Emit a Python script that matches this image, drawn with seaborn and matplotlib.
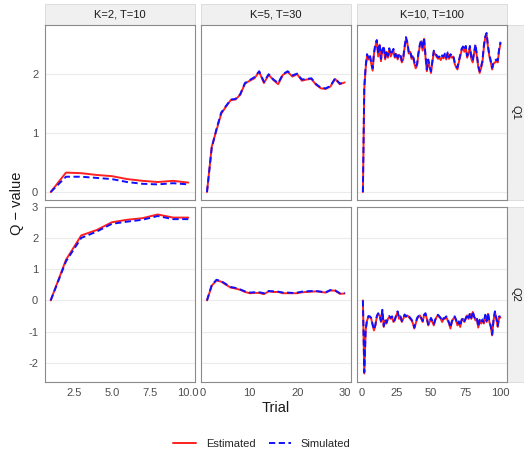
import numpy as np
import pandas as pd
import seaborn as sns
import matplotlib.pyplot as plt
from matplotlib.lines import Line2D
from matplotlib.patches import Rectangle

# facets
conditions = ["K=2, T=10", "K=5, T=30", "K=10, T=100"]
n_trials = [10, 30, 100]
q_rows = ["Q1", "Q2"]
sources = ["Estimated", "Simulated"]

# K=2, T=10
est_q1_k2 = [0.00, 0.33, 0.32, 0.29, 0.27, 0.22, 0.19, 0.17, 0.19, 0.16]
sim_q1_k2 = [0.00, 0.26, 0.26, 0.24, 0.22, 0.17, 0.14, 0.13, 0.15, 0.13]
est_q2_k2 = [0.00, 1.30, 2.08, 2.25, 2.50, 2.58, 2.63, 2.75, 2.65, 2.65]
sim_q2_k2 = [0.00, 1.25, 2.00, 2.20, 2.45, 2.52, 2.58, 2.70, 2.60, 2.60]

# K=5, T=30
est_q1_k5 = [0.00, 0.77, 1.05, 1.33, 1.45, 1.56, 1.57, 1.65, 1.84, 1.89,
             1.93, 2.04, 1.85, 1.99, 1.90, 1.83, 1.99, 2.04, 1.96, 2.00,
             1.89, 1.91, 1.92, 1.82, 1.76, 1.75, 1.79, 1.92, 1.83, 1.86]
sim_q1_k5 = [0.00, 0.75, 1.07, 1.35, 1.46, 1.57, 1.58, 1.66, 1.85, 1.90,
             1.95, 2.05, 1.87, 2.00, 1.91, 1.85, 2.00, 2.05, 1.98, 2.01,
             1.91, 1.92, 1.93, 1.83, 1.77, 1.76, 1.80, 1.93, 1.84, 1.87]
est_q2_k5 = [0.00, 0.47, 0.64, 0.60, 0.50, 0.41, 0.38, 0.34, 0.27, 0.23,
             0.24, 0.24, 0.20, 0.29, 0.27, 0.27, 0.23, 0.23, 0.23, 0.23,
             0.26, 0.27, 0.28, 0.29, 0.27, 0.25, 0.32, 0.31, 0.21, 0.22]
sim_q2_k5 = [0.00, 0.49, 0.66, 0.62, 0.52, 0.43, 0.40, 0.35, 0.29, 0.25,
             0.26, 0.26, 0.23, 0.30, 0.29, 0.28, 0.25, 0.25, 0.24, 0.25,
             0.28, 0.29, 0.30, 0.30, 0.28, 0.26, 0.33, 0.32, 0.23, 0.24]

# K=10, T=100
est_q1_k10 = [0.00, 1.75, 2.10, 2.32, 2.25, 2.30, 2.18, 2.06, 2.35, 2.48,
              2.56, 2.30, 2.50, 2.22, 2.40, 2.45, 2.25, 2.38, 2.28, 2.42,
              2.30, 2.36, 2.40, 2.28, 2.34, 2.25, 2.33, 2.30, 2.20, 2.25,
              2.45, 2.60, 2.52, 2.35, 2.38, 2.26, 2.30, 2.18, 2.10, 2.15,
              2.35, 2.48, 2.56, 2.40, 2.60, 2.30, 2.05, 2.22, 2.12, 2.02,
              2.20, 2.38, 2.34, 2.30, 2.26, 2.28, 2.24, 2.30, 2.27, 2.33,
              2.25, 2.35, 2.26, 2.32, 2.28, 2.30, 2.18, 2.12, 2.08, 2.20,
              2.30, 2.40, 2.45, 2.38, 2.46, 2.28, 2.35, 2.45, 2.26, 2.20,
              2.36, 2.48, 2.30, 2.12, 2.02, 2.10, 2.20, 2.45, 2.62, 2.67,
              2.45, 2.30, 2.20, 2.08, 2.18, 2.20, 2.22, 2.20, 2.40, 2.52]
sim_q1_k10 = [0.00, 1.78, 2.14, 2.34, 2.28, 2.33, 2.20, 2.10, 2.37, 2.52,
              2.58, 2.34, 2.52, 2.26, 2.42, 2.48, 2.28, 2.40, 2.31, 2.44,
              2.33, 2.38, 2.43, 2.30, 2.37, 2.28, 2.35, 2.33, 2.23, 2.28,
              2.47, 2.63, 2.54, 2.38, 2.40, 2.29, 2.33, 2.21, 2.13, 2.18,
              2.37, 2.51, 2.58, 2.43, 2.62, 2.33, 2.08, 2.25, 2.15, 2.05,
              2.23, 2.40, 2.37, 2.32, 2.29, 2.30, 2.27, 2.32, 2.30, 2.35,
              2.28, 2.37, 2.29, 2.34, 2.31, 2.32, 2.21, 2.15, 2.11, 2.23,
              2.32, 2.43, 2.47, 2.41, 2.48, 2.31, 2.37, 2.48, 2.29, 2.23,
              2.38, 2.51, 2.33, 2.15, 2.05, 2.13, 2.23, 2.48, 2.64, 2.70,
              2.48, 2.33, 2.23, 2.11, 2.21, 2.23, 2.25, 2.23, 2.43, 2.55]
est_q2_k10 = [0.00, -2.34, -0.96, -0.64, -0.53, -0.53, -0.59, -0.80, -0.96, -0.80,
              -0.53, -0.43, -0.48, -0.69, -0.32, -0.85, -0.64, -0.74, -0.59, -0.53,
              -0.59, -0.53, -0.69, -0.64, -0.48, -0.37, -0.59, -0.53, -0.69, -0.59,
              -0.48, -0.53, -0.48, -0.53, -0.59, -0.64, -0.74, -0.90, -0.74, -0.59,
              -0.53, -0.48, -0.59, -0.69, -0.48, -0.43, -0.59, -0.80, -0.69, -0.59,
              -0.69, -0.80, -0.64, -0.53, -0.48, -0.53, -0.59, -0.69, -0.59, -0.59,
              -0.53, -0.64, -0.74, -0.90, -0.69, -0.59, -0.53, -0.64, -0.80, -0.69,
              -0.85, -0.64, -0.59, -0.69, -0.59, -0.48, -0.59, -0.43, -0.59, -0.37,
              -0.53, -0.64, -0.59, -0.87, -0.64, -0.74, -0.64, -0.74, -0.48, -0.69,
              -0.43, -0.69, -0.85, -1.12, -0.64, -0.37, -0.59, -0.85, -0.53, -0.55]
sim_q2_k10 = [0.00, -2.30, -0.93, -0.61, -0.50, -0.51, -0.56, -0.77, -0.93, -0.78,
              -0.50, -0.41, -0.45, -0.66, -0.30, -0.82, -0.61, -0.71, -0.57, -0.50,
              -0.56, -0.51, -0.66, -0.61, -0.46, -0.35, -0.56, -0.51, -0.66, -0.57,
              -0.45, -0.51, -0.45, -0.50, -0.56, -0.61, -0.71, -0.87, -0.72, -0.56,
              -0.50, -0.46, -0.56, -0.66, -0.46, -0.41, -0.56, -0.77, -0.67, -0.56,
              -0.66, -0.77, -0.62, -0.50, -0.46, -0.51, -0.56, -0.66, -0.57, -0.56,
              -0.51, -0.61, -0.71, -0.87, -0.67, -0.56, -0.51, -0.61, -0.77, -0.67,
              -0.82, -0.62, -0.56, -0.66, -0.57, -0.45, -0.56, -0.41, -0.56, -0.35,
              -0.51, -0.61, -0.56, -0.84, -0.62, -0.71, -0.61, -0.71, -0.46, -0.66,
              -0.41, -0.66, -0.82, -1.09, -0.61, -0.35, -0.56, -0.82, -0.51, -0.52]

series = {
    ("K=2, T=10", "Q1"): (est_q1_k2, sim_q1_k2),
    ("K=2, T=10", "Q2"): (est_q2_k2, sim_q2_k2),
    ("K=5, T=30", "Q1"): (est_q1_k5, sim_q1_k5),
    ("K=5, T=30", "Q2"): (est_q2_k5, sim_q2_k5),
    ("K=10, T=100", "Q1"): (est_q1_k10, sim_q1_k10),
    ("K=10, T=100", "Q2"): (est_q2_k10, sim_q2_k10),
}

x_ticks = [[2.5, 5.0, 7.5, 10.0], [0, 10, 20, 30], [0, 25, 50, 75, 100]]
x_ticklabels = [["2.5", "5.0", "7.5", "10.0"], ["0", "10", "20", "30"],
                ["0", "25", "50", "75", "100"]]
y_ticks = [[0, 1, 2], [-2, -1, 0, 1, 2, 3]]

colors = {"Estimated": "#FF2020", "Simulated": "#1010FF"}


def build_frame() -> pd.DataFrame:
    rows = []
    for (cond, q), (est, sim) in series.items():
        for src, vals in zip(sources, (est, sim)):
            for i, v in enumerate(vals):
                rows.append({"cond": cond, "Q": q, "Source": src,
                             "Trial": i + 1, "value": v})
    return pd.DataFrame(rows)


def main():
    sns.set_style("white")
    plt.rcParams["font.family"] = ["Liberation Sans", "DejaVu Sans"]
    plt.rcParams["axes.unicode_minus"] = False
    data = build_frame()

    W, H = 524, 451
    fig = plt.figure(figsize=(W / 100, H / 100), dpi=100)

    col_left = [44.5, 200.8, 356.7]
    pw = 150.0
    row_top = [25.0, 206.5]
    ph = 175.0
    grey_txt = "#4D4D4D"

    for r, q in enumerate(q_rows):
        sub_row = data[data["Q"] == q]
        lo, hi = sub_row["value"].min(), sub_row["value"].max()
        pad = 0.05 * (hi - lo)
        for c, cond in enumerate(conditions):
            ax = fig.add_axes([col_left[c] / W, 1 - (row_top[r] + ph) / H, pw / W, ph / H])
            sub = sub_row[sub_row["cond"] == cond]
            sns.lineplot(data=sub, x="Trial", y="value", hue="Source", style="Source",
                         palette=colors, dashes={"Estimated": "", "Simulated": (3.2, 1.8)},
                         linewidth=1.4, legend=False, ax=ax)
            T = n_trials[c]
            ax.set_xlim(1 - 0.045 * (T - 1), T + 0.045 * (T - 1))
            ax.set_ylim(lo - pad, hi + pad)
            ax.set_xlabel("")
            ax.set_ylabel("")
            ax.set_yticks(y_ticks[r])
            ax.grid(axis="y", color="#EBEBEB", linewidth=0.8)
            ax.set_axisbelow(True)
            for s in ax.spines.values():
                s.set_edgecolor("#8A8A8A")
                s.set_linewidth(0.8)
            ax.tick_params(length=2.5, width=0.6, color="#555555", labelsize=8,
                           labelcolor=grey_txt, pad=2)
            ax.set_xticks(x_ticks[c])
            if r == 1:
                ax.set_xticklabels(x_ticklabels[c])
            else:
                ax.tick_params(axis="x", bottom=False, labelbottom=False)
            if c != 0:
                ax.tick_params(axis="y", left=False, labelleft=False)
            # column strips
            if r == 0:
                ax.add_patch(Rectangle((0, 1), 1, 21.0 / ph, transform=ax.transAxes,
                                       facecolor="#F0F0F0", edgecolor="#D9D9D9",
                                       linewidth=0.6, clip_on=False))
                ax.text(0.5, 1 + 10.5 / ph, cond, transform=ax.transAxes,
                        ha="center", va="center", fontsize=8, color="#1A1A1A")
            # row strips
            if c == 2:
                ax.add_patch(Rectangle((1, 0), 18.0 / pw, 1, transform=ax.transAxes,
                                       facecolor="#F0F0F0", edgecolor="#D9D9D9",
                                       linewidth=0.6, clip_on=False))
                ax.text(1 + 9.0 / pw, 0.5, q, transform=ax.transAxes, rotation=-90,
                        ha="center", va="center", fontsize=8, color="#1A1A1A")

    fig.text((44.5 + 506.7) / 2 / W, 1 - 408 / H, "Trial", ha="center", va="center",
             fontsize=10.5, color="#1A1A1A")
    fig.text(17 / W, 1 - 203 / H, "Q \u2212 value", ha="center", va="center",
             rotation=90, fontsize=10.5, color="#1A1A1A")

    handles = [Line2D([], [], color=colors["Estimated"], lw=1.4),
               Line2D([], [], color=colors["Simulated"], lw=1.4, dashes=(3.2, 1.8))]
    fig.legend(handles, sources, loc="center", bbox_to_anchor=(0.5, 1 - 444 / H),
               ncol=2, frameon=False, fontsize=8, handlelength=2.0,
               columnspacing=1.2, handletextpad=0.9)

    fig.savefig("out.png", dpi=100)


if __name__ == "__main__":
    main()
